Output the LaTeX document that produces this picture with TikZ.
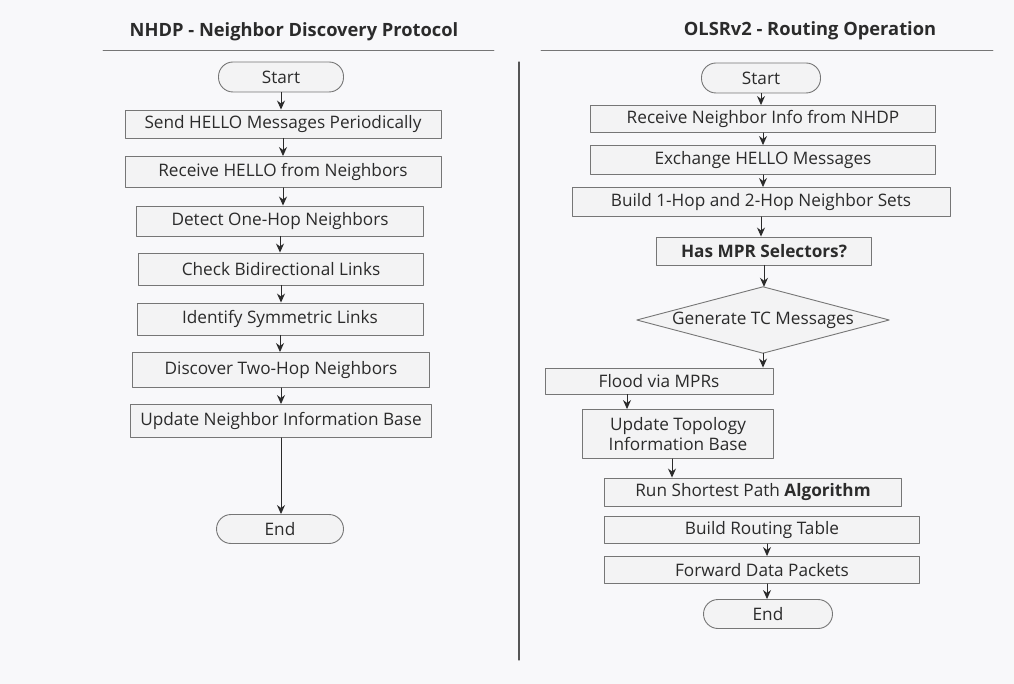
\documentclass[tikz,border=0pt]{standalone}
\usepackage{fontspec}
\setmainfont{Open Sans}
\usetikzlibrary{arrows.meta}
\definecolor{bg}{HTML}{F8F8FA}
\definecolor{boxfill}{HTML}{F3F3F4}
\definecolor{edge}{HTML}{767676}
\definecolor{ink}{HTML}{2B2B2B}
\begin{document}
\begin{tikzpicture}[x=1pt, y=-1pt, font=\fontsize{17.2}{20}\selectfont, line join=round, line cap=round, >={Stealth[length=9pt,width=8pt]},
	box/.style={draw=edge, fill=boxfill, text=ink, line width=0.9pt, inner sep=0pt},
	pill/.style={box, rounded corners=14.5pt},
	ttl/.style={text=ink, font=\fontsize{18.3}{21}\selectfont\bfseries},
	flow/.style={->, draw=ink, line width=0.9pt}]
	\path[fill=bg, use as bounding box] (0,0) rectangle (1014,684);
	% titles and rules
	\node[ttl] (ttlA) at (294,32) {NHDP - Neighbor Discovery Protocol};
	\node[ttl] (ttlB) at (810,31) {OLSRv2 - Routing Operation};
	\draw[edge, line width=0.9pt] (103,50) -- (494,50) (541,50) -- (993,50);
	\draw[ink!80, line width=1.2pt] (519,62) -- (519,660);
	% NHDP
	\node[pill, minimum width=125pt, minimum height=30pt] (aStart) at (281,77) {Start};
	\node[box, minimum width=316pt, minimum height=28pt] (aSend) at (283,124) {Send HELLO Messages Periodically};
	\node[box, minimum width=316pt, minimum height=31pt] (aRecv) at (283,172) {Receive HELLO from Neighbors};
	\node[box, minimum width=287pt, minimum height=30pt] (aOne) at (280,221) {Detect One-Hop Neighbors};
	\node[box, minimum width=285pt, minimum height=32pt] (aBidi) at (281,269) {Check Bidirectional Links};
	\node[box, minimum width=286pt, minimum height=32pt] (aSym) at (280,319) {Identify Symmetric Links};
	\node[box, minimum width=297pt, minimum height=35pt] (aTwo) at (281,370) {Discover Two-Hop Neighbors};
	\node[box, minimum width=301pt, minimum height=33pt] (aBase) at (281,421) {Update Neighbor Information Base};
	\node[pill, minimum width=127pt, minimum height=29pt] (aEnd) at (280,529) {End};
	\foreach \p/\q in {aStart/aSend, aSend/aRecv, aRecv/aOne, aOne/aBidi, aBidi/aSym, aSym/aTwo, aTwo/aBase, aBase/aEnd}
		\draw[flow] (\p) -- (\p |- \q.north);
	% OLSRv2
	\node[pill, minimum width=119pt, minimum height=30pt] (bStart) at (761,78) {Start};
	\node[box, minimum width=345pt, minimum height=27pt] (bInfo) at (763,119) {Receive Neighbor Info from NHDP};
	\node[box, minimum width=345pt, minimum height=29pt] (bHello) at (763,160) {Exchange HELLO Messages};
	\node[box, minimum width=378pt, minimum height=29pt] (bSets) at (761,202) {Build 1-Hop and 2-Hop Neighbor Sets};
	\node[box, minimum width=215pt, minimum height=28pt, font=\fontsize{17.2}{20}\selectfont\bfseries] (bMpr) at (764,251) {Has MPR Selectors?};
	\node[text=ink, minimum width=252pt, minimum height=66pt, inner sep=0pt] (bTc) at (763,320) {};
	\filldraw[draw=edge, fill=boxfill, line width=0.9pt] (bTc.west) -- (bTc.north) -- (bTc.east) -- (bTc.south) -- cycle;
	\node[text=ink] at (bTc) {Generate TC Messages};
	\node[box, minimum width=228pt, minimum height=26pt] (bFlood) at (659,381) {Flood via MPRs};
	\node[box, minimum width=191pt, minimum height=49pt, align=center, font=\fontsize{17.2}{20.5}\selectfont] (bTopo) at (678,434) {Update Topology\\Information Base};
	\node[box, minimum width=297pt, minimum height=28pt] (bPath) at (753,492) {Run Shortest Path \textbf{Algorithm}};
	\node[box, minimum width=315pt, minimum height=27pt] (bTable) at (762,530) {Build Routing Table};
	\node[box, minimum width=315pt, minimum height=27pt] (bFwd) at (762,570) {Forward Data Packets};
	\node[pill, minimum width=129pt, minimum height=29pt] (bEnd) at (768,614) {End};
	\foreach \p/\q in {bStart/bInfo, bInfo/bHello, bHello/bSets, bSets/bMpr, bMpr/bTc, bTc/bFlood}
		\draw[flow] (\p.south) -- (\p.south |- \q.north);
	\draw[flow] (bFlood.south -| 627,0) -- (627,0 |- bTopo.north);
	\draw[flow] (bTopo.south -| 672,0) -- (672,0 |- bPath.north);
	\draw[flow] (bTable.south -| 767,0) -- (767,0 |- bFwd.north);
	\draw[flow] (bFwd.south -| 767,0) -- (767,0 |- bEnd.north);
\end{tikzpicture}
\end{document}
